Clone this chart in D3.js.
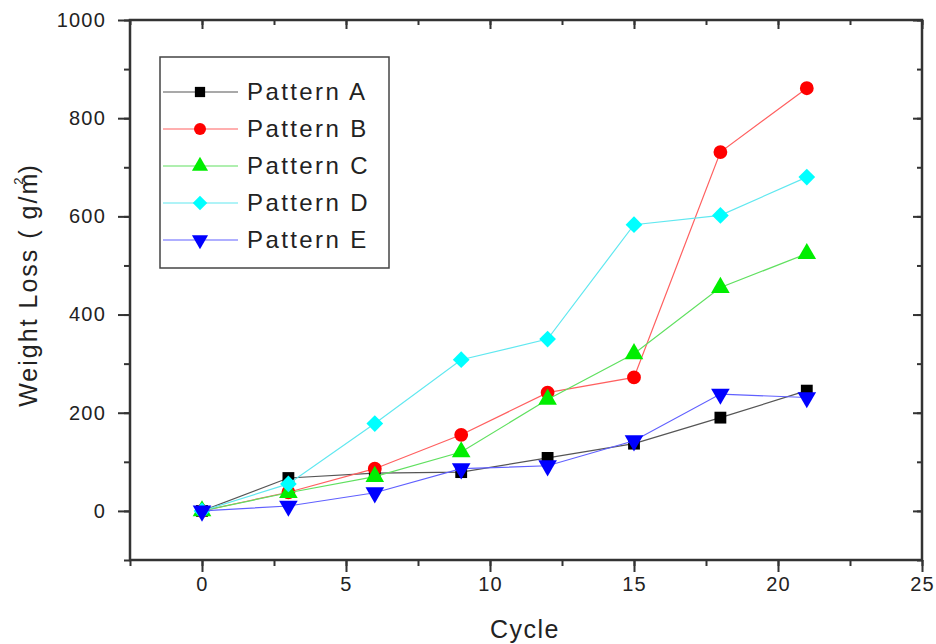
<!DOCTYPE html>
<html>
<head>
<meta charset="utf-8">
<script src="https://cdn.jsdelivr.net/npm/d3@7"></script>
<style>
	body { margin: 0; background: #fff; }
	text { font-family: "Liberation Sans", Arial, sans-serif; fill: #222; }
</style>
</head>
<body>
<svg id="chart" width="936" height="644"></svg>
<script>
// data
let cycles = [0, 3, 6, 9, 12, 15, 18, 21];
let patternA = [0, 67, 77, 79, 108, 137, 190, 245];
let patternB = [0, 38, 86, 155, 241, 272, 731, 861];
let patternC = [0, 37, 70, 120, 227, 320, 455, 524];
let patternD = [0, 55, 178, 308, 350, 583, 602, 680];
let patternE = [0, 10, 37, 86, 92, 143, 238, 231];
let seriesNames = ["Pattern A", "Pattern B", "Pattern C", "Pattern D", "Pattern E"];
let xTicks = [0, 5, 10, 15, 20, 25];
let yTicks = [0, 200, 400, 600, 800, 1000];

// diamond = square turned 45deg, down triangle = triangle turned 180deg
let series = [
	{ name: seriesNames[0], values: patternA, color: "#000000", line: "#555555", symbol: d3.symbolSquare, size: 140, rot: 0 },
	{ name: seriesNames[1], values: patternB, color: "#ff0000", line: "#ff6060", symbol: d3.symbolCircle, size: 150, rot: 0 },
	{ name: seriesNames[2], values: patternC, color: "#00ee00", line: "#60e060", symbol: d3.symbolTriangle, size: 150, rot: 0 },
	{ name: seriesNames[3], values: patternD, color: "#00ffff", line: "#60e8f0", symbol: d3.symbolSquare, size: 140, rot: 45 },
	{ name: seriesNames[4], values: patternE, color: "#0000ff", line: "#6060ff", symbol: d3.symbolTriangle, size: 150, rot: 180 }
];

let plot = { left: 130, right: 922, top: 20, bottom: 560 };
let svg = d3.select("#chart");

let x = d3.scaleLinear().domain([-2.5, 25]).range([plot.left, plot.right]);
let y = d3.scaleLinear().domain([-100, 1000]).range([plot.bottom, plot.top]);

let minorX = d3.range(-2.5, 25.1, 2.5);
let minorY = d3.range(-100, 1001, 100);

// minor ticks first, major ticks and labels on top
function drawAxis(axisFn, scale, ticks, size, translate, labels) {
	let g = svg.append("g").attr("transform", translate);
	g.call(axisFn(scale).tickValues(ticks).tickSize(size).tickFormat(labels ? d3.format("d") : ""));
	g.select(".domain").remove();
	g.selectAll("line").attr("stroke", "#333").attr("stroke-width", 2);
	g.selectAll("text")
		.attr("font-size", 20)
		.attr("letter-spacing", 1.2)
		.attr("fill", "#222");
	return g;
}

// bottom: outward ticks
drawAxis(d3.axisBottom, x, minorX, 6, `translate(0,${plot.bottom})`, false);
let bx = drawAxis(d3.axisBottom, x, xTicks, 12, `translate(0,${plot.bottom})`, true);
bx.selectAll("text").attr("y", 17);
// left: outward ticks
drawAxis(d3.axisLeft, y, minorY, 6, `translate(${plot.left},0)`, false);
let ly = drawAxis(d3.axisLeft, y, yTicks, 12, `translate(${plot.left},0)`, true);
ly.selectAll("text").attr("x", -24);
// top + right: inward ticks, no labels
drawAxis(d3.axisTop, x, minorX, -5, `translate(0,${plot.top})`, false);
drawAxis(d3.axisTop, x, xTicks, -9, `translate(0,${plot.top})`, false);
drawAxis(d3.axisRight, y, minorY, -5, `translate(${plot.right},0)`, false);
drawAxis(d3.axisRight, y, yTicks, -9, `translate(${plot.right},0)`, false);

// frame
svg.append("rect")
	.attr("x", plot.left)
	.attr("y", plot.top)
	.attr("width", plot.right - plot.left)
	.attr("height", plot.bottom - plot.top)
	.attr("fill", "none")
	.attr("stroke", "#333")
	.attr("stroke-width", 2.5);

// axis titles
svg.append("text")
	.attr("x", 525)
	.attr("y", 638)
	.attr("text-anchor", "middle")
	.attr("font-size", 25)
	.attr("letter-spacing", 1.5)
	.text("Cycle");

let yTitle = svg.append("text")
	.attr("transform", "translate(37,285) rotate(-90)")
	.attr("text-anchor", "middle")
	.attr("font-size", 25)
	.attr("letter-spacing", 2);
yTitle.append("tspan").text("Weight Loss ( g/m");
yTitle.append("tspan").attr("dy", -14).attr("dx", -13).attr("font-size", 13).text("2");
yTitle.append("tspan").attr("dy", 14).attr("dx", 2).text(")");

// lines + markers
let line = d3.line()
	.x((d, i) => x(cycles[i]))
	.y((d) => y(d));

let seriesG = svg.selectAll("g.series")
	.data(series)
	.join("g")
	.classed("series", true);

seriesG.append("path")
	.attr("d", (s) => line(s.values))
	.attr("fill", "none")
	.attr("stroke", (s) => s.line)
	.attr("stroke-width", 1.2);

seriesG.selectAll("path.marker")
	.data((s) => s.values.map((v, i) => ({ s: s, cx: cycles[i], v: v })))
	.join("path")
	.classed("marker", true)
	.attr("d", (d) => d3.symbol().type(d.s.symbol).size(d.s.size)())
	.attr("transform", (d) => `translate(${x(d.cx)},${y(d.v)}) rotate(${d.s.rot})`)
	.attr("fill", (d) => d.s.color);

// legend
let legend = svg.append("g");
legend.append("rect")
	.attr("x", 160)
	.attr("y", 57)
	.attr("width", 229)
	.attr("height", 211)
	.attr("fill", "#fff")
	.attr("stroke", "#444")
	.attr("stroke-width", 1.5);

let legendItem = legend.selectAll("g.item")
	.data(series)
	.join("g")
	.classed("item", true)
	.attr("transform", (d, i) => `translate(0,${92 + i * 37})`);

legendItem.append("line")
	.attr("x1", 163)
	.attr("x2", 238)
	.attr("stroke", (d) => d.line)
	.attr("stroke-width", 1.2);

legendItem.append("path")
	.attr("d", (d) => d3.symbol().type(d.symbol).size(d.size * 0.75)())
	.attr("transform", (d) => `translate(200,0) rotate(${d.rot})`)
	.attr("fill", (d) => d.color);

legendItem.append("text")
	.attr("x", 247)
	.attr("y", 8)
	.attr("font-size", 24)
	.attr("letter-spacing", 2.4)
	.text((d) => d.name);
</script>
</body>
</html>
